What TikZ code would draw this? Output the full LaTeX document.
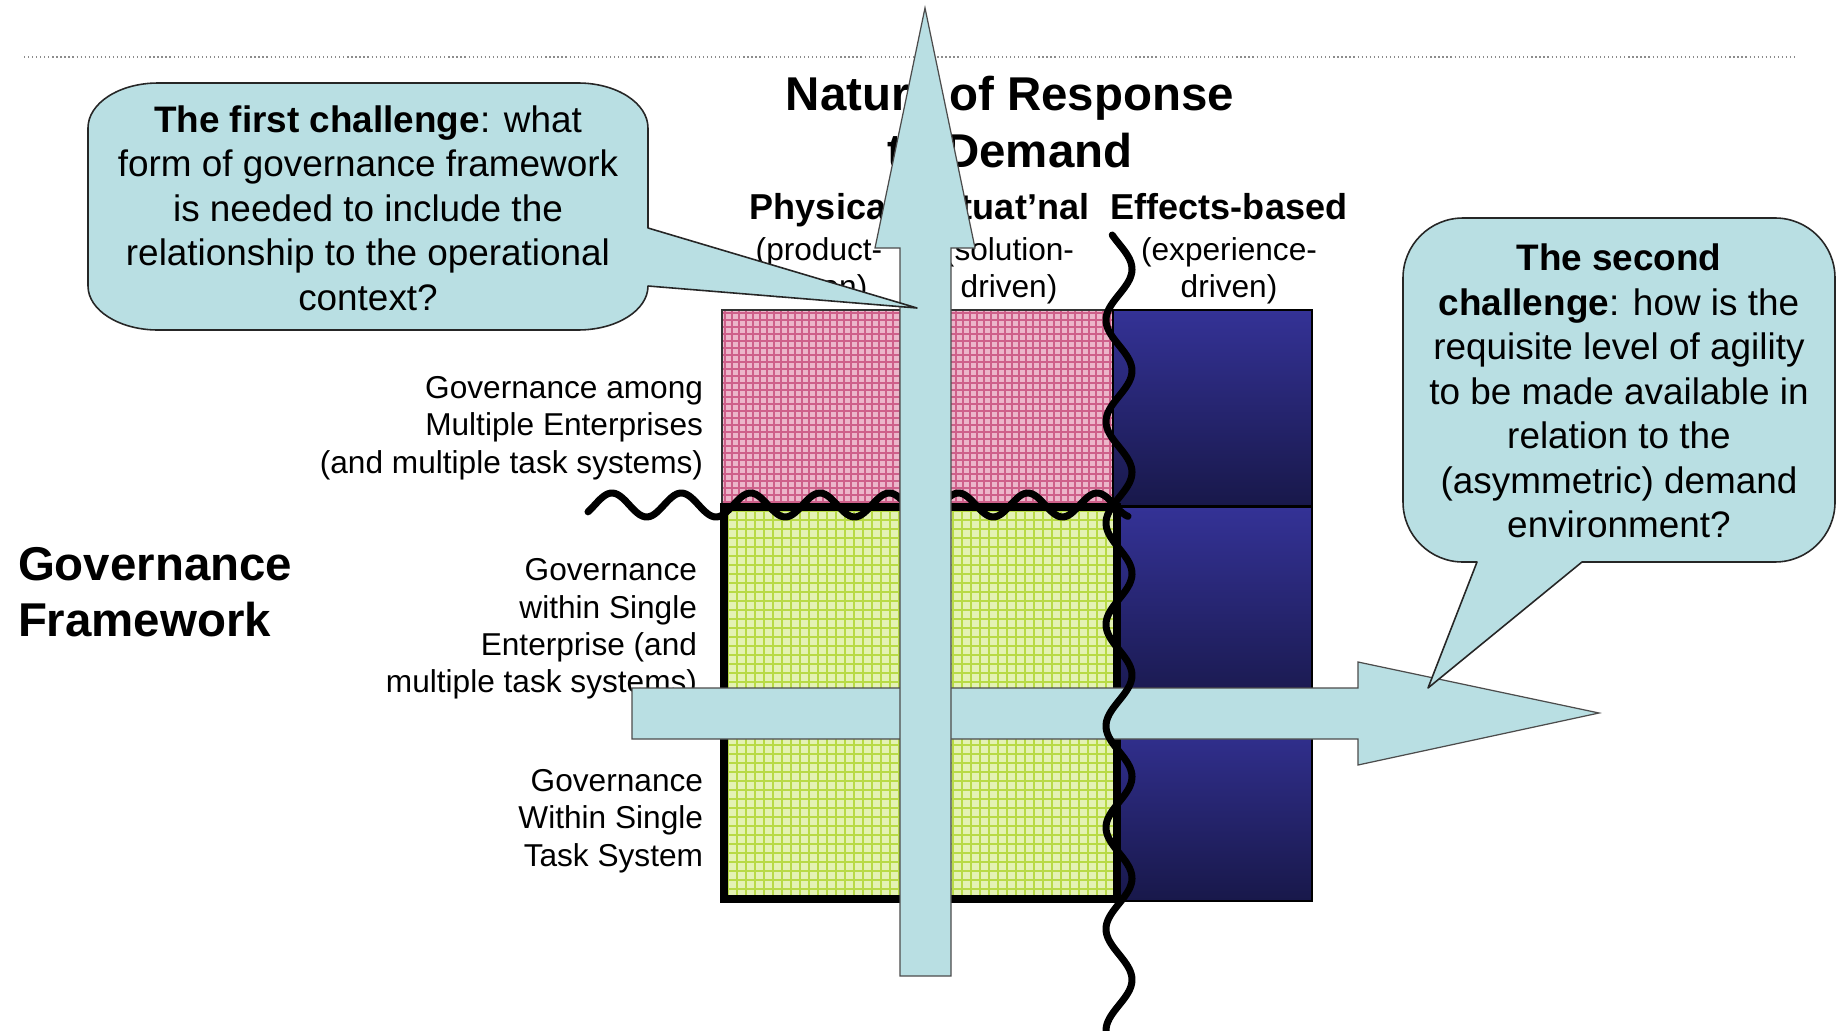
\documentclass[tikz,border=0pt]{standalone}
\usepackage{fontspec}
\setmainfont{Liberation Sans}
\definecolor{cfill}{RGB}{185,223,227}
\definecolor{pinkbg}{RGB}{236,182,202}
\definecolor{pinkln}{RGB}{206,96,138}
\definecolor{greenbg}{RGB}{228,242,180}
\definecolor{greenln}{RGB}{184,218,70}
\definecolor{bluetop}{RGB}{52,50,150}
\definecolor{bluebot}{RGB}{24,24,74}
\newcommand{\fTitle}{\fontsize{27pt}{32pt}\selectfont\bfseries}
\newcommand{\fHead}{\fontsize{20.5pt}{24pt}\selectfont\bfseries}
\newcommand{\fSub}{\fontsize{18pt}{21.3pt}\selectfont}
\newcommand{\fCall}{\fontsize{21pt}{25.3pt}\selectfont}
\begin{document}
\begin{tikzpicture}[x=0.02cm,y=-0.02cm,
  txt/.style={inner sep=0pt, outer sep=0pt, text=black},
  callout/.style={fill=cfill, draw=black!85, line width=0.9pt, line join=round},
  bigarrow/.style={fill=cfill, draw=black!70, line width=0.7pt, line join=miter},
  wave/.style={draw=black, line width=4pt, line cap=round, line join=round},
  thinbox/.style={draw=black!80, line width=0.6pt},
  pgrid/.style={draw=pinkln, line width=0.8pt},
  ggrid/.style={draw=greenln, line width=0.9pt}]
\fill[white] (0,0) rectangle (1843,1031);
\useasboundingbox (0,0) rectangle (1843,1031);

% dotted rule
\coordinate (ruleL) at (24,57);
\coordinate (ruleR) at (1796,57);
\draw[black!45, line width=0.7pt, dash pattern=on 0.7pt off 1.6pt] (ruleL) -- (ruleR);

% title and column headers
\node[txt, font=\fTitle, align=center] (title) at (1010,122) {Nature of Response\\to Demand};
\node[txt, font=\fHead, anchor=base] (hphys) at (823,219) {Physical};
\node[txt, font=\fHead, anchor=base] (hsit) at (1008,219) {Situat’nal};
\node[txt, font=\fHead, anchor=base] (heff) at (1229,219) {Effects-based};
\node[txt, font=\fSub, align=center] (sphys) at (819,271) {(product-\\driven)};
\node[txt, font=\fSub, align=center] (ssit) at (1009,271) {(solution-\\driven)};
\node[txt, font=\fSub, align=center] (seff) at (1229,271) {(experience-\\driven)};

% pink region
\fill[pinkbg] (722,310) rectangle (1113,506);
\foreach \gx in {725,732,...,1111} {\draw[pgrid] (\gx,310) -- (\gx,506);}
\foreach \gy in {313,320,...,504} {\draw[pgrid] (722,\gy) -- (1113,\gy);}
\draw[thinbox] (722,310) rectangle (1113,506);

% green region
\fill[greenbg] (724,507) rectangle (1117,899);
\foreach \gx in {728,737,...,1114} {\draw[ggrid] (\gx,507) -- (\gx,899);}
\foreach \gy in {511,520,...,897} {\draw[ggrid] (724,\gy) -- (1117,\gy);}

% blue column
\shade[top color=bluetop, bottom color=bluebot] (1113,310) rectangle (1312,506);
\shade[top color=bluetop, bottom color=bluebot] (1117,507) rectangle (1312,712);
\shade[top color=bluetop, bottom color=bluebot] (1117,712) rectangle (1312,901);
\draw[black, line width=0.8pt] (1113,310) rectangle (1312,506);
\draw[black, line width=0.8pt] (1117,507) rectangle (1312,901);

% thick border around green
\draw[black, line width=4.5pt, line join=miter] (724,507) rectangle (1117,899);

% row labels
\node[txt, font=\fSub, align=right, anchor=east] (g1) at (703,428) {Governance among\\Multiple Enterprises\\(and multiple task systems)};
\node[txt, font=\fSub, align=right, anchor=east] (g2) at (697,629) {Governance\\within Single\\Enterprise (and\\multiple task systems)};
\node[txt, font=\fSub, align=right, anchor=east] (g3) at (703,821) {Governance\\Within Single\\Task System};
\node[txt, font=\fTitle, align=left, anchor=west] (gf) at (18,592) {Governance\\Framework};

% horizontal wavy line
\draw[wave] plot[domain=588:1128, samples=220, smooth] (\x, {505 - 12*cos((\x-612)/69.3*360)});

% horizontal arrow
\draw[bigarrow] (632,688) -- (1358,688) -- (1358,662) -- (1599,713) -- (1358,765) -- (1358,739) -- (632,739) -- cycle;

% vertical wavy line
\draw[wave] plot[domain=235:1031, samples=320, smooth] ({1119 - 13*cos((\x-320)/101.5*360)}, \x);

% vertical arrow
\draw[bigarrow] (900,976) -- (900,248) -- (875,248) -- (925,8) -- (975,248) -- (951,248) -- (951,976) -- cycle;

% callout 1
\draw[callout] (158,83) -- (578,83)
  arc[start angle=90, end angle=0, x radius=1.4cm, y radius=0.9cm]
  -- (648,228) -- (917,308) -- (648,286)
  arc[start angle=0, end angle=-90, x radius=1.4cm, y radius=0.88cm]
  -- (158,330)
  arc[start angle=-90, end angle=-180, x radius=1.4cm, y radius=0.88cm]
  -- (88,128)
  arc[start angle=180, end angle=90, x radius=1.4cm, y radius=0.9cm]
  -- cycle;
\node[txt, font=\fCall, align=center] (c1) at (368,208) {\textbf{The first challenge}: what\\form of governance framework\\is needed to include the\\relationship to the operational\\context?};

% callout 2
\draw[callout] (1463,218) -- (1775,218)
  arc[start angle=90, end angle=0, radius=1.2cm]
  -- (1835,502)
  arc[start angle=0, end angle=-90, radius=1.2cm]
  -- (1582,562) -- (1428,688) -- (1477,562) -- (1463,562)
  arc[start angle=-90, end angle=-180, radius=1.2cm]
  -- (1403,278)
  arc[start angle=180, end angle=90, radius=1.2cm]
  -- cycle;
\node[txt, font=\fCall, align=center] (c2) at (1619,391) {\textbf{The second}\\\textbf{challenge}: how is the\\requisite level of agility\\to be made available in\\relation to the\\(asymmetric) demand\\environment?};
\end{tikzpicture}
\end{document}
